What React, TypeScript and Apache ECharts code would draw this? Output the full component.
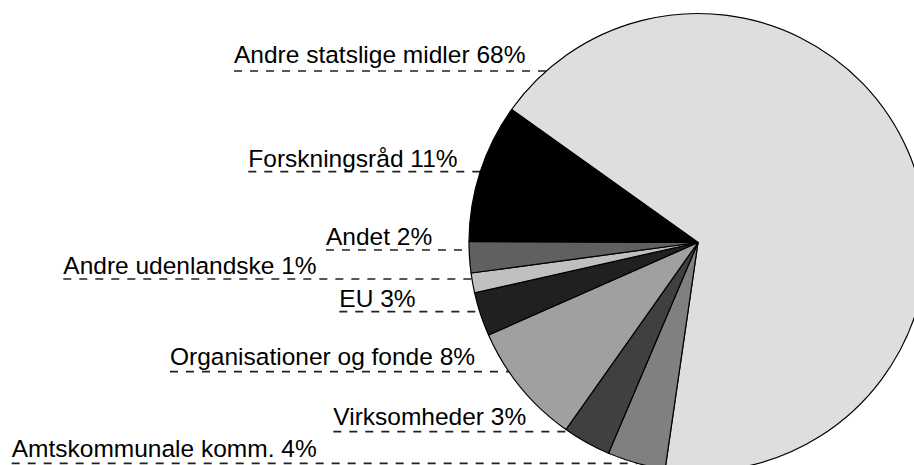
import React, { useEffect, useRef } from 'react';
import * as echarts from 'echarts';

// Data (clockwise from the top-left boundary)
const categories = [
  'Andre statslige midler',
  'Amtskommunale komm.',
  'Virksomheder',
  'Organisationer og fonde',
  'EU',
  'Andre udenlandske',
  'Andet',
  'Forskningsråd',
];
const shareLabels = ['68%', '4%', '3%', '8%', '3%', '1%', '2%', '11%'];
const values = [67.5, 4.1, 3.4, 8.6, 3.1, 1.4, 2.2, 9.8];

// Styles
const colors = ['#dedede', '#808080', '#404040', '#a0a0a0', '#202020', '#c0c0c0', '#606060', '#000000'];

// Label layout (px)
const labelLeft = [234, 11.7, 333.3, 170, 339.3, 63.3, 326, 248.3];
const labelBaseline = [63.3, 456.7, 425, 365, 306.7, 274, 245, 166.7];
const lineY = [71, 463.3, 431.7, 371.7, 311.7, 279, 250, 171.7];
const CX = 698;
const CY = 242.5;
const R = 229;
const FONT = 24.5;

export default function App() {
  const ref = useRef<HTMLDivElement>(null);
  useEffect(() => {
    if (!ref.current) return;
    const chart = echarts.init(ref.current, null, { renderer: 'svg' });
    const data = categories.map((c, i) => ({
      name: c,
      value: values[i],
      itemStyle: { color: colors[i] },
    }));
    chart.setOption({
      animation: false,
      backgroundColor: '#ffffff',
      series: [
        {
          type: 'pie',
          center: [CX, CY],
          radius: R,
          startAngle: 144.5,
          clockwise: true,
          avoidLabelOverlap: false,
          silent: true,
          data,
          itemStyle: { borderColor: '#000000', borderWidth: 1.2 },
          label: {
            show: true,
            position: 'outside',
            color: '#000000',
            fontFamily: 'Liberation Sans, Arial, sans-serif',
            fontSize: FONT,
            formatter: (p: any) => `${p.name} ${shareLabels[p.dataIndex]}`,
          },
          labelLine: {
            show: true,
            length: 0,
            length2: 0,
            smooth: false,
            lineStyle: { color: '#222222', width: 1.7, type: [8, 8] },
          },
          labelLayout: (params: any) => {
            const i = params.dataIndex;
            const dy = lineY[i] - CY;
            const xEdge = CX - Math.sqrt(Math.max(0, R * R - dy * dy));
            return {
              x: labelLeft[i],
              y: labelBaseline[i] - 8.5,
              align: 'left',
              verticalAlign: 'middle',
              labelLinePoints: [
                [labelLeft[i], lineY[i]],
                [xEdge, lineY[i]],
              ],
            };
          },
        },
      ],
    });
    return () => chart.dispose();
  }, []);
  return (
    <div
      ref={ref}
      style={{ position: 'absolute', left: 0, top: 0, width: 914, height: 465 }}
    />
  );
}
